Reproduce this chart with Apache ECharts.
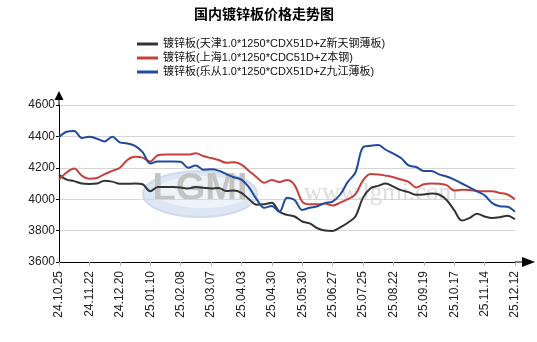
<!DOCTYPE html>
<html>
<head>
<meta charset="utf-8">
<script src="https://cdn.jsdelivr.net/npm/echarts@6/dist/echarts.min.js"></script>
<style>
  html, body { margin: 0; padding: 0; background: #fff; }
  #chart { width: 537px; height: 342px; }
</style>
</head>
<body>
<div id="chart"></div>
<script>
// Weekly samples (every 5 trading days); one axis label every 4 samples.
const tickLabels = ['24.10.25','24.11.22','24.12.20','25.01.10','25.02.08','25.03.07','25.04.03','25.04.30',
                    '25.05.30','25.06.27','25.07.25','25.08.22','25.09.19','25.10.17','25.11.14','25.12.12'];

const seriesNames = [
  '镀锌板(天津1.0*1250*CDX51D+Z新天钢薄板)',
  '镀锌板(上海1.0*1250*CDC51D+Z本钢)',
  '镀锌板(乐从1.0*1250*CDX51D+Z九江薄板)'
];

const tianjin = [4155,4125,4115,4100,4097,4100,4118,4112,4098,4098,4100,4095,4050,4078,4078,4078,4075,4068,4078,4073,
                 4068,4072,4052,4055,4040,4000,3965,3968,3978,3920,3900,3890,3858,3846,3815,3800,3798,3820,3850,3890,
                 4010,4070,4085,4100,4080,4058,4045,4028,4030,4037,4030,3995,3930,3865,3880,3908,3890,3880,3885,3895,3872];

const shanghai = [4125,4170,4195,4150,4130,4135,4160,4180,4200,4250,4270,4265,4240,4280,4285,4285,4285,4285,4292,4275,
                  4262,4250,4232,4235,4220,4180,4140,4105,4122,4110,4122,4090,3985,3968,3968,3972,3960,3978,4000,4030,
                  4120,4160,4158,4150,4140,4125,4110,4075,4095,4100,4098,4090,4055,4060,4058,4052,4050,4050,4040,4030,4000];

const lecong = [4395,4430,4435,4390,4398,4385,4368,4398,4362,4355,4340,4300,4228,4240,4240,4240,4238,4200,4215,4188,
                4190,4182,4160,4140,4125,4075,4000,3945,3957,3920,4010,3995,3932,3945,3955,3975,3985,4030,4110,4170,
                4330,4340,4345,4315,4290,4262,4215,4205,4180,4180,4158,4145,4125,4100,4075,4050,4025,3975,3955,3952,3920];

const colors = ['#333333', '#c8403c', '#1f4a9e'];
const samplesPerLabel = 4;

const toPairs = arr => arr.map((v, i) => [i, v]);
const baseFont = 'Liberation Sans, Arial, Noto Sans CJK SC, sans-serif';

const chart = echarts.init(document.getElementById('chart'), null, { renderer: 'canvas' });

chart.setOption({
  animation: false,
  backgroundColor: '#ffffff',
  title: {
    text: '国内镀锌板价格走势图',
    left: 189,
    top: 2,
    textStyle: { fontSize: 14, fontWeight: 'bold', color: '#000', fontFamily: 'Noto Sans CJK SC, sans-serif' }
  },
  legend: {
    orient: 'vertical',
    left: 132,
    top: 32,
    itemGap: 0,
    itemWidth: 21,
    itemHeight: 3,
    icon: 'rect',
    data: seriesNames,
    textStyle: { fontSize: 11, color: '#111', fontFamily: baseFont, lineHeight: 14, padding: [0, 0, 0, 0] }
  },
  graphic: [
    {
      type: 'ellipse', z: 0, silent: true,
      shape: { cx: 200, cy: 194, rx: 57, ry: 23 },
      style: { fill: '#dde7f3', stroke: '#cfdcec', lineWidth: 2 }
    },
    {
      type: 'ellipse', z: 0, silent: true,
      shape: { cx: 203, cy: 192, rx: 47, ry: 16 },
      style: { fill: '#eef3f9' }
    },
    {
      type: 'text', z: 0, silent: true,
      x: 200, y: 190,
      style: { text: 'LGMI', fill: '#c4c4c4', font: 'bold 38px Liberation Sans, Arial', align: 'center', verticalAlign: 'middle' }
    },
    {
      type: 'text', z: 0, silent: true,
      x: 381, y: 193,
      style: { text: 'www.lgmi.com', fill: '#dcdcdc', font: '25px Liberation Serif, serif', align: 'center', verticalAlign: 'middle' }
    }
  ],
  grid: { left: 59, right: 22, top: 105, bottom: 80 },
  xAxis: {
    type: 'value',
    min: 0,
    max: (tickLabels.length - 1) * samplesPerLabel,
    interval: samplesPerLabel,
    axisLine: {
      show: true,
      lineStyle: { color: '#000', width: 1 },
      symbol: ['none', 'path://M5,0L10,13L5.6,13L5.6,20L4.4,20L4.4,13L0,13Z'],
      symbolSize: [10, 20],
      symbolOffset: [0, 10]
    },
    axisTick: { show: true, length: 4, lineStyle: { color: '#bbbbbb' } },
    axisLabel: {
      rotate: 90,
      margin: 9,
      fontSize: 12,
      color: '#222',
      fontFamily: baseFont,
      formatter: v => tickLabels[Math.round(v / samplesPerLabel)] || ''
    },
    splitLine: { show: false }
  },
  yAxis: {
    type: 'value',
    min: 3600,
    max: 4600,
    interval: 200,
    axisLine: {
      show: true,
      lineStyle: { color: '#000', width: 1 },
      symbol: ['none', 'path://M4.5,0L9,9L5,9L5,14L4,14L4,9L0,9Z'],
      symbolSize: [9, 14],
      symbolOffset: [0, 7]
    },
    axisTick: { show: true, length: 3, lineStyle: { color: '#000' } },
    axisLabel: { fontSize: 12, color: '#222', margin: 4, fontFamily: baseFont, formatter: v => String(v) },
    splitLine: { show: true, lineStyle: { color: '#d6d6d6', width: 1 } }
  },
  series: [
    { name: seriesNames[0], data: toPairs(tianjin) },
    { name: seriesNames[1], data: toPairs(shanghai) },
    { name: seriesNames[2], data: toPairs(lecong) }
  ].map((s, k) => Object.assign(s, {
    type: 'line',
    showSymbol: false,
    smooth: 0.35,
    z: 3,
    color: colors[k],
    lineStyle: { width: 2, color: colors[k] }
  }))
});
</script>
</body>
</html>
